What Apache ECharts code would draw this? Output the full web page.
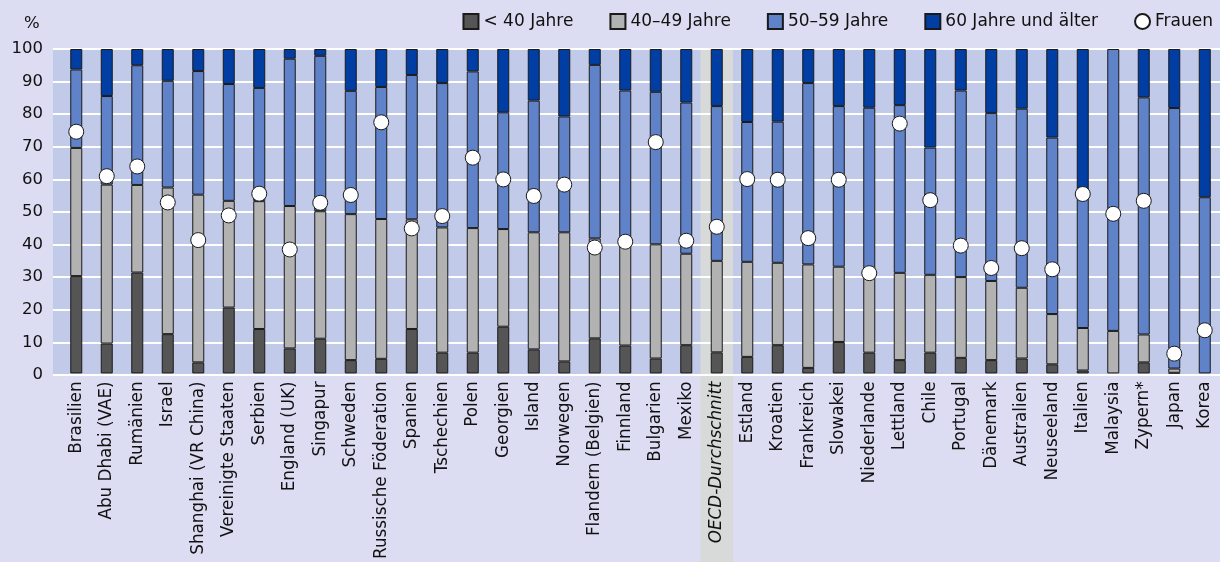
<!DOCTYPE html>
<html>
<head>
<meta charset="utf-8">
<script src="https://cdn.jsdelivr.net/npm/echarts@6/dist/echarts.min.js"></script>
<style>
  html, body { margin: 0; padding: 0; background: #dcdcf2; }
  #chart { width: 1220px; height: 562px; }
</style>
</head>
<body>
<div id="chart"></div>
<script>
const countries = [
  'Brasilien', 'Abu Dhabi (VAE)', 'Rumänien', 'Israel', 'Shanghai (VR China)', 'Vereinigte Staaten',
  'Serbien', 'England (UK)', 'Singapur', 'Schweden', 'Russische Föderation', 'Spanien', 'Tschechien',
  'Polen', 'Georgien', 'Island', 'Norwegen', 'Flandern (Belgien)', 'Finnland', 'Bulgarien', 'Mexiko',
  'OECD-Durchschnitt', 'Estland', 'Kroatien', 'Frankreich', 'Slowakei', 'Niederlande', 'Lettland',
  'Chile', 'Portugal', 'Dänemark', 'Australien', 'Neuseeland', 'Italien', 'Malaysia', 'Zypern*',
  'Japan', 'Korea'
]
const under40 = [30, 9.2, 31.1, 12.1, 3.4, 20.3, 13.7, 7.7, 10.7, 4.1, 4.5, 13.7, 6.4, 6.4, 14.4, 7.4, 3.7, 10.8, 8.6, 4.6, 8.7, 6.5, 5.1, 8.7, 1.7, 9.7, 6.4, 4.1, 6.4, 4.8, 4.1, 4.6, 2.8, 0.9, 0, 3.4, 0.2, 0]
const age40to49 = [39.5, 49, 27, 45.2, 51.7, 32.9, 39.4, 43.9, 39.3, 45, 43.1, 33.8, 38.6, 38.4, 30.1, 36.1, 39.8, 30.8, 31.4, 35.2, 28.2, 28.2, 29.3, 25.4, 31.9, 23.2, 24.2, 26.9, 24, 24.9, 24.4, 21.8, 15.5, 13.1, 13.1, 8.6, 1.3, 0]
const age50to59 = [24.2, 27.3, 36.9, 32.9, 38.1, 36, 34.9, 45.4, 47.9, 38, 40.7, 44.5, 44.5, 48.3, 36, 40.6, 35.7, 53.5, 47.2, 47, 46.6, 47.7, 43.1, 43.5, 55.9, 49.5, 51.3, 51.7, 39.2, 57.5, 51.8, 55.2, 54.4, 42, 86.9, 73.1, 80.3, 54.3]
const over60 = [6.3, 14.5, 5, 9.8, 6.8, 10.8, 12, 3, 2.1, 12.9, 11.7, 8, 10.5, 6.9, 19.5, 15.9, 20.8, 4.9, 12.8, 13.2, 16.5, 17.6, 22.5, 22.4, 10.5, 17.6, 18.1, 17.3, 30.4, 12.8, 19.7, 18.4, 27.3, 44, 0, 14.9, 18.2, 45.7]
const women = [74.5, 60.8, 63.8, 52.7, 41.1, 48.7, 55.4, 38.2, 52.6, 55, 77.4, 44.7, 48.5, 66.5, 59.8, 54.7, 58.2, 38.8, 40.6, 71.3, 40.9, 45.2, 59.9, 59.7, 41.7, 59.7, 30.9, 77, 53.4, 39.4, 32.5, 38.6, 32.1, 55.3, 49.2, 53.2, 6.1, 13.3]
const yTicks = [0, 10, 20, 30, 40, 50, 60, 70, 80, 90, 100]

const font = 'DejaVu Sans'
const colors = ['#555555', '#b2b2b2', '#5f82c8', '#003ea3']
const highlight = 'OECD-Durchschnitt'

// plot area (background grid spans a bit wider than the bars)
const plotTop = 49
const plotHeight = 326

const chart = echarts.init(document.getElementById('chart'))

function barSeries(name, values, color) {
  return {
    name,
    type: 'bar',
    stack: 'total',
    xAxisIndex: 1,
    yAxisIndex: 1,
    barWidth: 12,
    itemStyle: { color, borderColor: '#1a1a1a', borderWidth: 1 },
    data: values.map(v => (v === 0 ? '-' : v)),
  }
}

chart.setOption({
  backgroundColor: '#dcdcf2',
  textStyle: { fontFamily: font },
  animation: false,
  title: {
    text: '%',
    left: 24,
    top: 15,
    padding: 0,
    textStyle: { fontFamily: font, fontSize: 16.5, fontWeight: 'normal', color: '#111' },
  },
  legend: {
    right: 2,
    top: 8,
    itemWidth: 15,
    itemHeight: 15,
    itemGap: 36,
    textStyle: { fontFamily: font, fontSize: 17, color: '#111' },
    data: [
      { name: '< 40 Jahre', icon: 'rect' },
      { name: '40–49 Jahre', icon: 'rect' },
      { name: '50–59 Jahre', icon: 'rect' },
      { name: '60 Jahre und älter', icon: 'rect' },
      { name: 'Frauen', icon: 'circle' },
    ],
  },
  grid: [
    { left: 53, right: 0, top: plotTop, height: plotHeight },
    { left: 61, width: 1161, top: plotTop, height: plotHeight },
  ],
  xAxis: [
    { gridIndex: 0, type: 'value', min: 0, max: 1, show: false },
    {
      gridIndex: 1,
      type: 'category',
      data: countries,
      axisLine: { show: false },
      axisTick: { show: false },
      axisLabel: {
        interval: 0,
        rotate: 90,
        margin: 8,
        fontSize: 16.8,
        fontFamily: font,
        color: '#111',
        formatter: v => (v === highlight ? `{i|${v}}` : v),
        rich: { i: { fontStyle: 'italic', fontSize: 16.8, fontFamily: font, color: '#111' } },
      },
    },
  ],
  yAxis: [
    {
      gridIndex: 0,
      type: 'value',
      min: yTicks[0],
      max: yTicks[yTicks.length - 1],
      interval: 10,
      axisLine: { show: false },
      axisTick: { show: false },
      axisLabel: { fontSize: 16.5, fontFamily: font, color: '#111', margin: 10 },
      splitLine: { lineStyle: { color: '#ffffff', width: 2 } },
    },
    { gridIndex: 1, type: 'value', min: 0, max: 100, show: false },
  ],
  series: [
    barSeries('< 40 Jahre', under40, colors[0]),
    barSeries('40–49 Jahre', age40to49, colors[1]),
    barSeries('50–59 Jahre', age50to59, colors[2]),
    barSeries('60 Jahre und älter', over60, colors[3]),
    {
      name: 'Frauen',
      type: 'scatter',
      xAxisIndex: 1,
      yAxisIndex: 1,
      z: 5,
      symbol: 'circle',
      symbolSize: 15,
      itemStyle: { color: '#ffffff', borderColor: '#1a1a1a', borderWidth: 1, opacity: 1 },
      data: women,
    },
  ],
})

// plot background + grey column behind the OECD average, placed from the axis scale
const bandX = chart.convertToPixel({ xAxisIndex: 1 }, highlight)
chart.setOption({
  graphic: [
    {
      type: 'rect',
      z: -10,
      silent: true,
      shape: { x: 53, y: plotTop, width: 1220 - 53, height: plotHeight },
      style: { fill: '#c2cae9' },
    },
    {
      type: 'rect',
      z: -5,
      silent: true,
      shape: { x: bandX - 16.3, y: plotTop, width: 32.6, height: 562 - plotTop },
      style: { fill: '#d8dad9' },
    },
  ],
})
</script>
</body>
</html>
